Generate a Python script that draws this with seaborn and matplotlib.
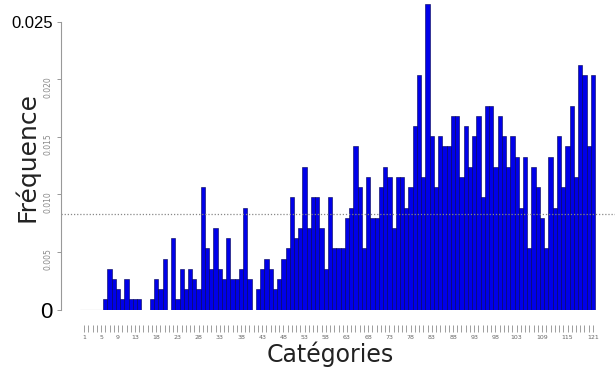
import numpy as np
import matplotlib.pyplot as plt
import seaborn as sns

# 121 catégories, effectifs (fréquence = effectif / total)
categories = list(range(1, 122))
counts = [
    0, 0, 0, 0, 0, 1, 4, 3, 2, 1,
    3, 1, 1, 1, 0, 0, 1, 3, 2, 5,
    0, 7, 1, 4, 2, 4, 3, 2, 12, 6,
    4, 8, 4, 3, 7, 3, 3, 4, 10, 3,
    0, 2, 4, 5, 4, 2, 3, 5, 6, 11,
    7, 8, 14, 8, 11, 11, 8, 4, 11, 6,
    6, 6, 9, 10, 16, 12, 6, 13, 9, 9,
    12, 14, 13, 8, 13, 13, 10, 12, 18, 23,
    13, 30, 17, 12, 17, 16, 16, 19, 19, 13,
    18, 14, 17, 19, 11, 20, 20, 14, 19, 17,
    14, 17, 15, 10, 15, 6, 14, 12, 9, 6,
    15, 10, 17, 12, 16, 20, 13, 24, 23, 16,
    23,
]
shown_labels = [1, 5, 9, 13, 18, 23, 28, 33, 38, 43, 48, 53, 58, 63, 68,
                73, 78, 83, 88, 93, 98, 103, 109, 115, 121]
ytick_values = [0, 0.005, 0.010, 0.015, 0.020, 0.025]
ytick_labels = ['0', '0.005', '0.010', '0.015', '0.020', '0.025']
uniform_line = 0.00826

freq = np.array(counts) / sum(counts)

sns.set_style('white')
narrow = ['Liberation Sans Narrow', 'Liberation Sans', 'DejaVu Sans']

fig = plt.figure(figsize=(6.15, 3.67), dpi=100)
ax = fig.add_axes([61 / 615, 57.5 / 367, 554 / 615, 309.5 / 367])

sns.barplot(x=categories, y=freq, color='#0000e8', saturation=1, width=1,
            edgecolor='#000050', linewidth=0.4, ax=ax)

# petite ligne de base sous les barres vides
ax.axhline(0, xmin=0.035, xmax=0.075, color='#999999', linewidth=0.8)
ax.axhline(uniform_line, color='#888888', linestyle=(0, (1, 1.5)), linewidth=0.9)

ax.set_xlim(-5.45, 125.2)
ax.set_ylim(0, 0.0269)

# axe des x : un trait par catégorie, étiquettes espacées
ax.set_xticks(range(len(categories)))
ax.set_xticklabels([str(c) if c in shown_labels else '' for c in categories])
ax.tick_params(axis='x', bottom=True, length=5, width=0.5, color='#777777',
               labelsize=4.5, labelcolor='#666666', pad=2.5)
ax.spines['bottom'].set_position(('outward', 11))
ax.spines['bottom'].set_visible(False)
ax.spines['top'].set_visible(False)
ax.spines['right'].set_visible(False)

# axe des y
ax.set_yticks(ytick_values)
ax.set_yticklabels(ytick_labels)
ax.tick_params(axis='y', left=True, length=3, width=0.6, color='#888888',
               labelsize=5.5, labelcolor='#888888', pad=3, labelrotation=90)
ax.spines['left'].set_bounds(0, 0.025)
ax.spines['left'].set_color('#999999')
ax.spines['left'].set_linewidth(0.8)
for lab in ax.get_yticklabels():
    if lab.get_text() in ('0', '0.025'):
        lab.set_rotation(0)
        lab.set_color('black')
        lab.set_family(narrow)
        lab.set_fontsize(16 if lab.get_text() == '0' else 12)

ax.set_ylabel('Fréquence', fontsize=18, color='#222222')
ax.yaxis.set_label_coords(-0.0397, 0.493)
ax.set_xlabel('Catégories', fontsize=17, color='#222222', family='DejaVu Sans')
ax.xaxis.set_label_coords(0.4856, -0.105)

fig.savefig('out.png', dpi=100)
plt.close(fig)
